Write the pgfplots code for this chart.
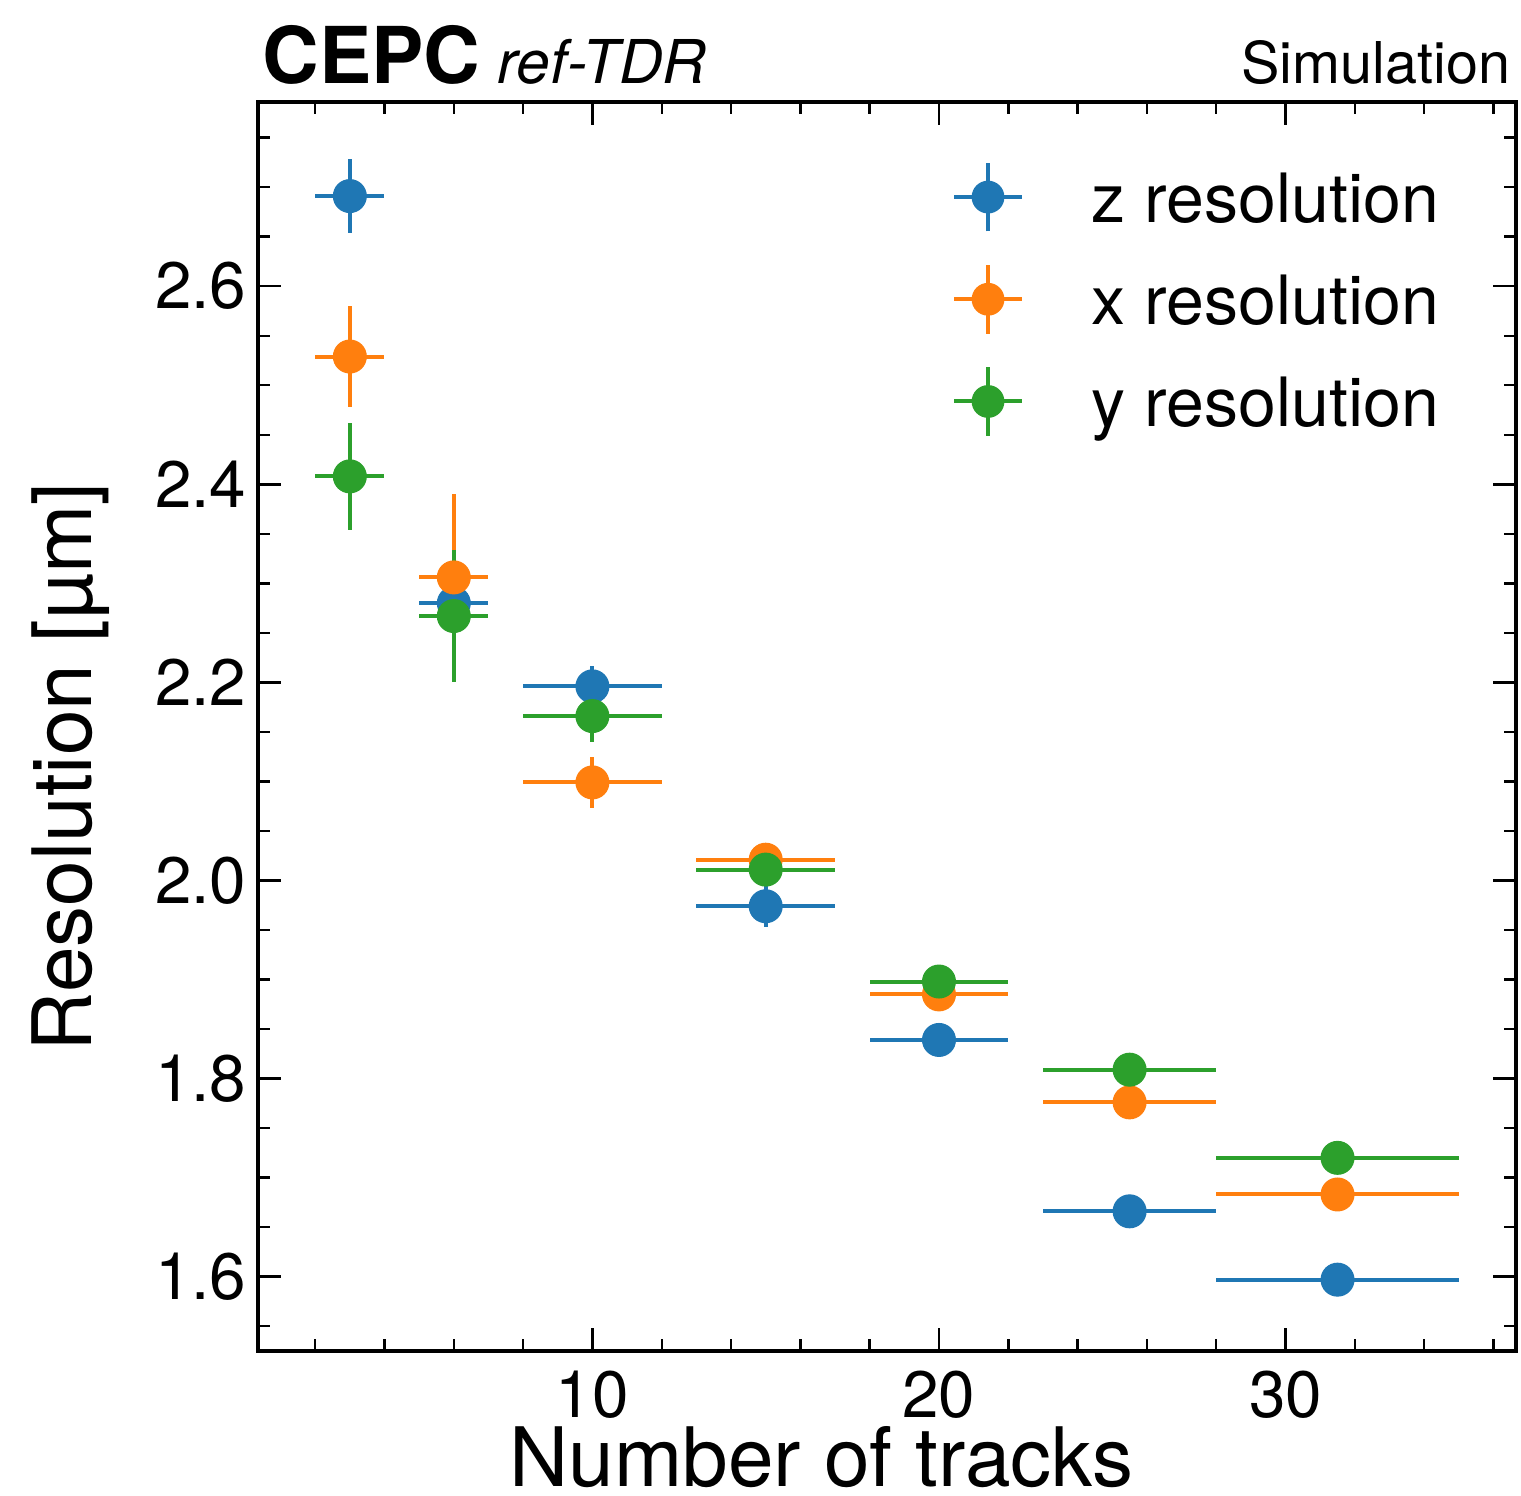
\documentclass[border=0pt]{standalone}
\usepackage{fontspec}
\setmainfont{TeX Gyre Heros}
\usepackage{pgfplots}
\pgfplotsset{compat=1.18}
\definecolor{cz}{HTML}{1F77B4}
\definecolor{cx}{HTML}{FF7F0E}
\definecolor{cy}{HTML}{2CA02C}

\pgfplotsset{
  respt/.style={only marks, mark=*, mark size=4.1pt, color=#1,
    mark options={fill=#1, draw=#1, line width=0.3pt},
    error bars/.cd, x dir=both, x explicit, y dir=both, y explicit,
    error mark=none, error bar style={line width=1pt, color=#1}},
}

\begin{document}
\begin{tikzpicture}
\begin{axis}[
  name=ax, at={(0,0)}, anchor=south west,
  scale only axis, width=314.5pt, height=312.25pt,
  xmin=0.35, xmax=36.65, ymin=1.525, ymax=2.786,
  xtick={10,20,30},
  minor xtick={2,4,6,8,12,14,16,18,22,24,26,28,32,34,36},
  ytick={1.6,1.8,2.0,2.2,2.4,2.6},
  minor ytick={1.55,1.65,1.7,1.75,1.85,1.9,1.95,2.05,2.1,2.15,2.25,2.3,2.35,2.45,2.5,2.55,2.65,2.7,2.75},
  tick align=inside, tick pos=both,
  major tick length=5.75pt, minor tick length=3pt,
  every tick/.style={black, line width=0.6pt},
  axis line style={line width=1pt},
  /pgf/number format/assume math mode=true,
  yticklabel style={/pgf/number format/fixed, /pgf/number format/fixed zerofill, /pgf/number format/precision=1},
  ticklabel style={font=\fontsize{16.4}{19}\selectfont},
  xticklabel style={inner sep=0pt, yshift=-4.75pt},
  yticklabel style={inner sep=0pt, xshift=-2.75pt},
  xlabel={Number of tracks},
  xlabel style={font=\fontsize{20.5}{24}\selectfont, at={(rel axis cs:0.448,0)}, anchor=base, yshift=-34pt, inner sep=0pt, text depth=0pt},
  ylabel={Resolution [µm]},
  ylabel style={font=\fontsize{20.5}{24}\selectfont, at={(rel axis cs:-0.1176,0.4676)}, anchor=south, inner sep=0pt},
  legend style={at={(0.5517,0.953)}, anchor=north west, draw=none, fill=none,
    inner sep=0pt, outer sep=0pt, column sep=0pt, row sep=6.4pt,
    font=\fontsize{17}{20}\selectfont,
    nodes={inner sep=0pt, text height=14.75pt, text depth=3.75pt},
    cells={anchor=base west}},
  legend image code/.code={
    \draw[#1, line width=1pt] (0pt,6.3pt) -- (17pt,6.3pt);
    \draw[#1, line width=1pt] (8.5pt,-2.3pt) -- (8.5pt,14.9pt);
    \fill[#1] (8.5pt,6.3pt) circle (3.9pt);
    \path (34.25pt,0pt);
  },
]

\addplot[respt=cz] coordinates {
  (3,2.691) +- (1,0.037)
  (6,2.280) +- (1,0.012)
  (10,2.196) +- (2,0.021)
  (15,1.974) +- (2,0.021)
  (20,1.839) +- (2,0.010)
  (25.5,1.666) +- (2.5,0.010)
  (31.5,1.597) +- (3.5,0.010)
};
\addplot[respt=cx] coordinates {
  (3,2.529) +- (1,0.051)
  (6,2.306) +- (1,0.084)
  (10,2.099) +- (2,0.026)
  (15,2.021) +- (2,0.012)
  (20,1.885) +- (2,0.010)
  (25.5,1.776) +- (2.5,0.010)
  (31.5,1.683) +- (3.5,0.010)
};
\addplot[respt=cy] coordinates {
  (3,2.408) +- (1,0.054)
  (6,2.267) +- (1,0.067)
  (10,2.166) +- (2,0.026)
  (15,2.011) +- (2,0.012)
  (20,1.898) +- (2,0.010)
  (25.5,1.809) +- (2.5,0.010)
  (31.5,1.720) +- (3.5,0.010)
};
\legend{z resolution, x resolution, y resolution}
\end{axis}
\node[anchor=base west, inner sep=0pt] at ([xshift=1pt,yshift=4.5pt]ax.north west)
  {\fontsize{19.6}{22}\selectfont\bfseries CEPC\hspace{4.25pt}\fontsize{15.1}{18}\selectfont\mdseries\itshape ref-TDR};
\node[anchor=base east, inner sep=0pt] at ([xshift=-1.25pt,yshift=4.5pt]ax.north east)
  {\fontsize{14.4}{17}\selectfont Simulation};
\pgfresetboundingbox
\path ([shift={(-64.5pt,-36.25pt)}]ax.south west) rectangle ([shift={(315.75pt,337.75pt)}]ax.south west);
\end{tikzpicture}
\end{document}
